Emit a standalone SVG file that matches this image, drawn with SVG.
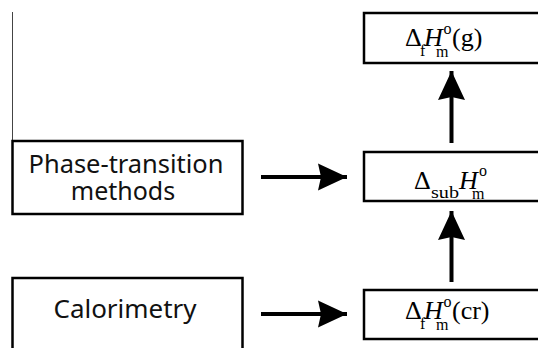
<svg xmlns="http://www.w3.org/2000/svg" width="538" height="348" viewBox="0 0 538 348">
<style>
.box{fill:#fff;stroke:#000;stroke-width:2.5}
.lbl{font-family:"Noto Sans","Open Sans",sans-serif;font-size:25px;fill:#111;text-anchor:middle}
.m{font-family:"Liberation Serif","Times New Roman",serif;font-size:26px;fill:#000}
.s{font-size:16px}
.i{font-style:italic}
.con{stroke:#000;stroke-width:4;fill:none}
</style>
<defs>
<marker id="ah" markerUnits="userSpaceOnUse" markerWidth="32" markerHeight="30" viewBox="-30 -15 32 30" refX="0" refY="0" orient="auto">
<path d="M0,0 L-29,-13.5 L-26,0 L-29,13.5 Z" fill="#000"/>
</marker>
</defs>
<line x1="12.5" y1="12" x2="12.5" y2="141" stroke="#444" stroke-width="1"/>
<g id="node-phase">
<rect class="box" x="12.5" y="141" width="230" height="73"/>
<text class="lbl" x="126" y="173" textLength="195" lengthAdjust="spacingAndGlyphs">Phase-transition</text>
<text class="lbl" x="123" y="200">methods</text>
</g>
<g id="node-calorimetry">
<rect class="box" x="12.5" y="278" width="230" height="80"/>
<text class="lbl" x="125" y="318" textLength="143" lengthAdjust="spacingAndGlyphs">Calorimetry</text>
</g>
<g id="node-fHg">
<rect class="box" x="364" y="13" width="190" height="50"/>
<text class="m"><tspan x="405" y="46">Δ</tspan><tspan class="s" x="420" y="56">f</tspan><tspan class="i" x="424" y="46">H</tspan><tspan class="s" x="443.5" y="34">o</tspan><tspan class="s" x="436" y="57">m</tspan><tspan x="452" y="46">(g)</tspan></text>
</g>
<g id="node-subH">
<rect class="box" x="364" y="152" width="190" height="49"/>
<text class="m"><tspan x="414" y="189">Δ</tspan><tspan class="s" x="431" y="198" textLength="28" lengthAdjust="spacingAndGlyphs">sub</tspan><tspan class="i" x="459" y="189">H</tspan><tspan class="s" x="479" y="176">o</tspan><tspan class="s" x="472" y="199">m</tspan></text>
</g>
<g id="node-fHcr">
<rect class="box" x="364" y="290" width="190" height="49"/>
<text class="m"><tspan x="405" y="319">Δ</tspan><tspan class="s" x="420" y="329">f</tspan><tspan class="i" x="424" y="319">H</tspan><tspan class="s" x="443.5" y="307">o</tspan><tspan class="s" x="436" y="330">m</tspan><tspan x="452" y="319">(cr)</tspan></text>
</g>
<g id="connectors">
<line class="con" x1="261" y1="177" x2="347" y2="177" marker-end="url(#ah)"/>
<line class="con" x1="261" y1="314" x2="347" y2="314" marker-end="url(#ah)"/>
<line class="con" x1="451.5" y1="143" x2="451.5" y2="71" marker-end="url(#ah)"/>
<line class="con" x1="451.5" y1="282" x2="451.5" y2="211" marker-end="url(#ah)"/>
</g>
</svg>
